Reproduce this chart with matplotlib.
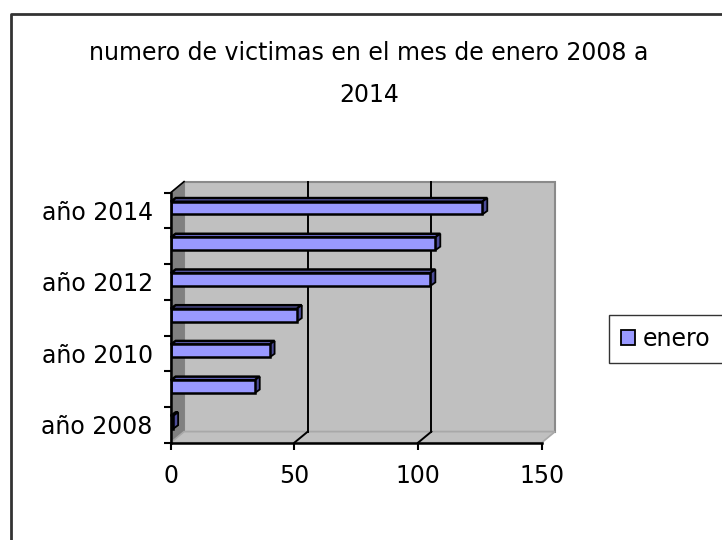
import matplotlib
matplotlib.use("Agg")
import matplotlib.pyplot as plt
from matplotlib.patches import Polygon, Patch
from matplotlib.lines import Line2D

years = ["año 2008", "año 2009", "año 2010", "año 2011", "año 2012", "año 2013", "año 2014"]
enero = [1, 34, 40, 51, 105, 107, 126]
x_ticks = [0, 50, 100, 150]
title = "numero de victimas en el mes de enero 2008 a\n2014"
series_name = "enero"

FONT = ["DejaVu Sans"]
plt.rcParams["font.family"] = FONT
FS = 17

fig = plt.figure(figsize=(7.22, 5.4), dpi=100)
fig.patch.set_facecolor("white")

ax = fig.add_axes([170.7 / 722, 1 - 442.7 / 540, 371 / 722, 250 / 540])
ax.set_xlim(0, 150)
ax.set_ylim(-0.5, len(years) - 0.5)
ax.patch.set_visible(False)

# 3D wall offsets (data units)
DX, DY = 5.4, 0.31
y0, y1 = -0.5, len(years) - 0.5
xmax = x_ticks[-1]

wall_c = "#c0c0c0"
# back wall
ax.add_patch(Polygon([(DX, y0 + DY), (xmax + DX, y0 + DY), (xmax + DX, y1 + DY), (DX, y1 + DY)],
                     closed=True, facecolor=wall_c, edgecolor="#8a8a8a", lw=1.5,
                     clip_on=False, zorder=0))
# left side wall
ax.add_patch(Polygon([(0, y0), (DX, y0 + DY), (DX, y1 + DY), (0, y1)],
                     closed=True, facecolor="#808080", edgecolor="#808080", lw=0.8,
                     clip_on=False, zorder=0.5))
# floor
ax.add_patch(Polygon([(0, y0), (xmax, y0), (xmax + DX, y0 + DY), (DX, y0 + DY)],
                     closed=True, facecolor=wall_c, edgecolor="#a8a8a8", lw=1.2,
                     clip_on=False, zorder=0.5))
# top edge of left wall
ax.add_line(Line2D([0, DX], [y1, y1 + DY], color="black", lw=1.2, clip_on=False, zorder=3))

# gridlines on back wall and floor
for t in x_ticks[1:-1]:
    ax.add_line(Line2D([t + DX, t + DX], [y0 + DY, y1 + DY], color="black", lw=1.4,
                       clip_on=False, zorder=1))
    ax.add_line(Line2D([t, t + DX], [y0, y0 + DY], color="black", lw=1.4,
                       clip_on=False, zorder=1))

# bars
BH = 0.36
OFF = 0.07
bdx, bdy = 2.0, 0.1
front_c = "#9999ff"
top_c = "#6666c0"
side_c = "#4d4d99"
ypos = list(range(len(years)))
bars = ax.barh([y + OFF for y in ypos], enero, height=BH, left=0, color=front_c,
               edgecolor="black", linewidth=1.8, zorder=5)
for b in bars:
    x0 = b.get_x()
    w = b.get_width()
    yb = b.get_y()
    h = b.get_height()
    top = Polygon([(x0, yb + h), (x0 + w, yb + h), (x0 + w + bdx, yb + h + bdy), (x0 + bdx, yb + h + bdy)],
                  closed=True, facecolor=top_c, edgecolor="black", lw=1.8, zorder=4, clip_on=False)
    side = Polygon([(x0 + w, yb), (x0 + w + bdx, yb + bdy), (x0 + w + bdx, yb + h + bdy), (x0 + w, yb + h)],
                   closed=True, facecolor=side_c, edgecolor="black", lw=1.3, zorder=4, clip_on=False)
    ax.add_patch(top)
    ax.add_patch(side)

# axes styling
for s in ["top", "right"]:
    ax.spines[s].set_visible(False)
for s in ["left", "bottom"]:
    ax.spines[s].set_color("black")
    ax.spines[s].set_linewidth(1.8)
    ax.spines[s].set_zorder(6)

ax.set_xticks(x_ticks)
ax.set_xticklabels([str(t) for t in x_ticks], fontsize=FS)
ax.tick_params(axis="x", direction="out", length=5, width=1.5, pad=10, colors="black")

ax.set_yticks([y - 0.5 for y in range(len(years) + 1)])
ax.set_yticklabels([])
ax.tick_params(axis="y", which="major", direction="out", length=5, width=1.5)
ax.set_yticks(ypos[::2], minor=True)
ax.set_yticklabels(years[::2], minor=True, fontsize=FS)
ax.tick_params(axis="y", which="minor", length=0, pad=13)

# title
fig.text(369 / 722, 1 - 74 / 540, title, ha="center", va="center", fontsize=FS,
         linespacing=1.95, color="black")

# legend
fig.legend(handles=[Patch(facecolor=front_c, edgecolor="black", linewidth=1.3)],
           labels=[series_name], loc="center left",
           bbox_to_anchor=(609 / 722, 1 - 339 / 540), frameon=True, fancybox=False,
           edgecolor="black", fontsize=FS, handlelength=0.6, handleheight=0.6,
           handletextpad=0.35, borderpad=0.5, borderaxespad=0)

# outer chart border
fig.add_artist(Line2D([11 / 722, 11 / 722, 1.0], [0.0, 1 - 14 / 540, 1 - 14 / 540],
                      transform=fig.transFigure, color="#333333", lw=2))

fig.savefig("out.png", dpi=100)
